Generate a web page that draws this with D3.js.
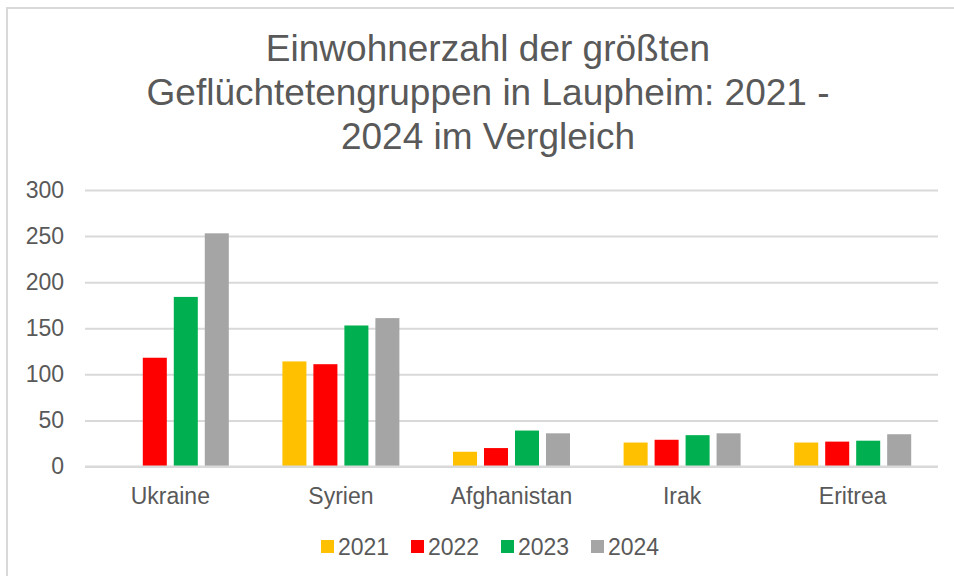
<!DOCTYPE html>
<html>
<head>
<meta charset="utf-8">
<script src="https://cdn.jsdelivr.net/npm/d3@7"></script>
<style>
  html, body { margin: 0; padding: 0; background: #fff; }
  svg { display: block; font-family: "Liberation Sans", Arial, sans-serif; }
</style>
</head>
<body>
<svg id="chart" width="954" height="576"></svg>
<script>
const categories = ["Ukraine", "Syrien", "Afghanistan", "Irak", "Eritrea"];
const years = ["2021", "2022", "2023", "2024"];
const values2021 = [0, 114, 16, 26, 26];
const values2022 = [118, 111, 20, 29, 27];
const values2023 = [184, 153, 39, 34, 28];
const values2024 = [253, 161, 36, 36, 35];
const yTicks = [0, 50, 100, 150, 200, 250, 300];
const colors = ["#FFC000", "#FF0000", "#00B050", "#A5A5A5"];
const titleLines = ["Einwohnerzahl der größten", "Geflüchtetengruppen in Laupheim: 2021 -", "2024 im Vergleich"];

const series = [values2021, values2022, values2023, values2024];
const svg = d3.select("#chart");
const textColor = "#595959";

// chart border
svg.append("rect")
  .attr("x", 7).attr("y", 8)
  .attr("width", 980).attr("height", 600)
  .attr("fill", "#fff")
  .attr("stroke", "#d9d9d9").attr("stroke-width", 2);

// title
const title = svg.append("text")
  .attr("text-anchor", "middle")
  .attr("fill", textColor)
  .attr("font-size", 37);
titleLines.forEach((t, i) => {
  title.append("tspan").attr("x", 488).attr("y", 61 + i * 44).text(t);
});

const x0 = d3.scaleBand().domain(categories).range([85, 938]).paddingInner(0).paddingOuter(0);
const groupPad = 26.8;
const x1 = d3.scaleBand().domain(years)
  .range([groupPad, x0.bandwidth() - groupPad])
  .paddingInner(0.225).paddingOuter(0);
const y = d3.scaleLinear().domain([0, 300]).range([466.5, 190]);

// gridlines
const grid = svg.append("g").attr("transform", "translate(85,0)")
  .call(d3.axisLeft(y).tickValues(yTicks).tickSize(-(938 - 85)).tickFormat(""));
grid.select(".domain").remove();
grid.selectAll("line").attr("stroke", "#d9d9d9").attr("stroke-width", 2);

// y labels
const yAxis = svg.append("g").attr("transform", "translate(64,0)")
  .call(d3.axisLeft(y).tickValues(yTicks).tickSize(0).tickPadding(0));
yAxis.select(".domain").remove();
yAxis.selectAll("text").attr("fill", textColor).attr("font-size", 23)
  .attr("font-family", "Liberation Sans, Arial, sans-serif");

// bars
const groups = svg.append("g").selectAll("g")
  .data(categories).join("g")
  .attr("transform", d => `translate(${x0(d)},0)`);
groups.selectAll("rect")
  .data((c, ci) => years.map((yr, si) => ({ yr, v: series[si][ci], si })))
  .join("rect")
  .attr("x", d => x1(d.yr))
  .attr("width", x1.bandwidth())
  .attr("y", d => y(d.v))
  .attr("height", d => y(0) - y(d.v))
  .attr("fill", d => colors[d.si]);

// baseline
svg.append("line").attr("x1", 85).attr("x2", 938)
  .attr("y1", y(0)).attr("y2", y(0))
  .attr("stroke", "#d9d9d9").attr("stroke-width", 2);

// x labels
const xAxis = svg.append("g").attr("transform", `translate(0,${y(0)})`)
  .call(d3.axisBottom(x0).tickSize(0).tickPadding(21));
xAxis.select(".domain").remove();
xAxis.selectAll("text").attr("fill", textColor).attr("font-size", 23)
  .attr("font-family", "Liberation Sans, Arial, sans-serif");

// legend
const legend = svg.append("g").selectAll("g")
  .data(years).join("g")
  .attr("transform", (d, i) => `translate(${321 + i * 90},0)`);
legend.append("rect").attr("x", 0).attr("y", 540).attr("width", 13).attr("height", 13)
  .attr("fill", (d, i) => colors[i]);
legend.append("text").attr("x", 17).attr("y", 555)
  .attr("fill", textColor).attr("font-size", 23).text(d => d);
</script>
</body>
</html>
